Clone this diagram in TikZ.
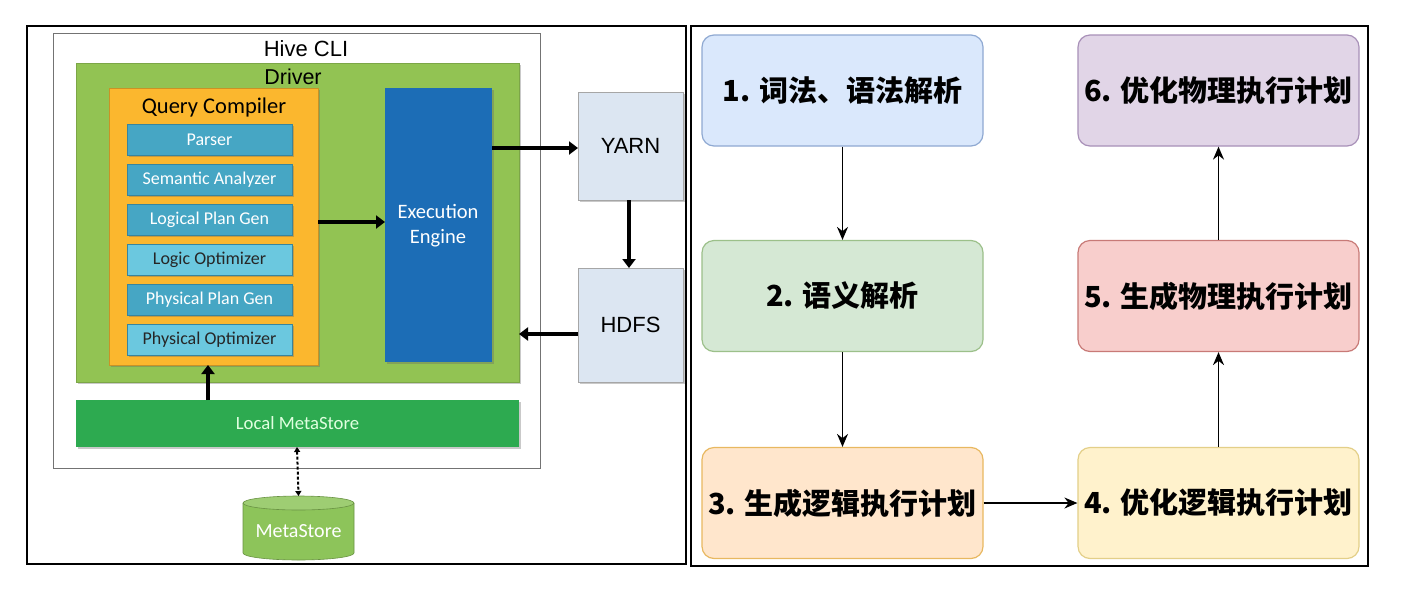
\documentclass[tikz,border=0pt]{standalone}
\usepackage{fontspec}
\setmainfont{Carlito}
\newfontfamily\hel{Liberation Sans}
\newfontfamily\cjk{Noto Sans CJK SC}
\usetikzlibrary{arrows.meta,shadows,positioning}
\definecolor{drvgreen}{HTML}{92C353}
\definecolor{qcorange}{HTML}{FBB72E}
\definecolor{stepdark}{HTML}{46A6C4}
\definecolor{steplight}{HTML}{6BC8DF}
\definecolor{eeblue}{HTML}{1C6DB6}
\definecolor{srvgrey}{HTML}{DCE6F2}
\definecolor{lmgreen}{HTML}{2DAA50}
\definecolor{cylgreen}{HTML}{8DC45A}
\definecolor{fa}{HTML}{DAE8FC}\definecolor{fab}{HTML}{8FA9D2}
\definecolor{fb}{HTML}{D5E8D4}\definecolor{fbb}{HTML}{9CC08A}
\definecolor{fc}{HTML}{FFE6CC}\definecolor{fcb}{HTML}{E8B860}
\definecolor{fd}{HTML}{FFF2CC}\definecolor{fdb}{HTML}{E3CF88}
\definecolor{fe}{HTML}{F8CECC}\definecolor{feb}{HTML}{C87A77}
\definecolor{ff}{HTML}{E1D5E7}\definecolor{ffb}{HTML}{A890B8}
\tikzset{
  shd/.style={drop shadow={shadow xshift=1.5pt,shadow yshift=-1.5pt,opacity=0.35,fill=black!60}},
  area/.style={anchor=north west,inner sep=0pt,outer sep=0pt},
  stepbox/.style={area,shd,minimum width=165pt,minimum height=31pt,draw=stepdark!80!black,line width=0.3pt,font=\fontsize{18}{20}\selectfont},
  thickarrow/.style={line width=4.5pt,-{Triangle[length=9pt,width=13pt]}},
  flowbox/.style={rounded corners=12pt,line width=1.2pt,minimum width=281pt,minimum height=111pt,inner sep=0pt,font=\cjk\bfseries\fontsize{29}{31}\selectfont},
  flowarrow/.style={line width=1.6pt,-{Stealth[length=13pt,width=11pt]}}
}
\begin{document}
\begin{tikzpicture}[x=1pt,y=-1pt]
\useasboundingbox (0,0) rectangle (1404,592);
\fill[white] (0,0) rectangle (1404,592);
% ---------- left panel ----------
\node[area,draw=black,line width=2.2pt,minimum width=659pt,minimum height=538pt] (lframe) at (27,26) {};
\node[area,draw=black!55,line width=0.8pt,fill=white,minimum width=487pt,minimum height=435pt] (cli) at (53,33) {};
\node[font=\hel\fontsize{22}{24}\selectfont] (clit) at (306,49) {Hive CLI};
\node[area,shd,fill=drvgreen,draw=drvgreen!85!black,line width=0.4pt,minimum width=443pt,minimum height=319pt] (drv) at (76,63) {};
\node[font=\hel\fontsize{21.5}{24}\selectfont] (drvt) at (293,77) {Driver};
\node[area,shd,fill=qcorange,draw=qcorange!80!black,line width=0.4pt,minimum width=209pt,minimum height=277pt] (qc) at (109,88) {};
\node[font=\fontsize{22.5}{24}\selectfont] (qct) at (214,107) {Query Compiler};
\node[stepbox,fill=stepdark,text=white] (s1) at (127,124) {Parser};
\node[stepbox,fill=stepdark,text=white] (s2) at (127,164) {Semantic Analyzer};
\node[stepbox,fill=stepdark,text=white] (s3) at (127,204) {Logical Plan Gen};
\node[stepbox,fill=steplight,text=black!85] (s4) at (127,244) {Logic Optimizer};
\node[stepbox,fill=stepdark,text=white] (s5) at (127,284) {Physical Plan Gen};
\node[stepbox,fill=steplight,text=black!85] (s6) at (127,324) {Physical Optimizer};
\node[area,shd,fill=eeblue,minimum width=107pt,minimum height=274pt] (ee) at (385,88) {};
\node[text=white,align=center,font=\fontsize{20.5}{25}\selectfont] (eet) at (438,226) {Execution\\Engine};
\node[area,shd,fill=srvgrey,draw=black!35,line width=0.6pt,minimum width=105pt,minimum height=108pt] (yarn) at (578,92) {};
\node[font=\hel\fontsize{22}{24}\selectfont] at (yarn.center) {YARN};
\node[area,shd,fill=srvgrey,draw=black!35,line width=0.6pt,minimum width=105pt,minimum height=114pt] (hdfs) at (578,268) {};
\node[font=\hel\fontsize{22}{24}\selectfont] at (hdfs.center) {HDFS};
\node[area,shd,fill=lmgreen,minimum width=443pt,minimum height=47pt] (lm) at (76,400) {};
\node[text=white!88!green,font=\fontsize{18.7}{21}\selectfont] at (lm.center) {Local MetaStore};
% cylinder
\fill[cylgreen] (243,503) -- (243,553) arc[start angle=180,end angle=360,x radius=55.5pt,y radius=7pt] -- (354,503) -- cycle;
\draw[cylgreen!75!black,line width=0.6pt] (243,503) -- (243,553) arc[start angle=180,end angle=360,x radius=55.5pt,y radius=7pt] -- (354,503);
\filldraw[fill=cylgreen!85!white,draw=cylgreen!75!black,line width=0.6pt] (298.5,503) ellipse[x radius=55.5pt,y radius=7pt];
\coordinate (mstop) at (298.5,496);
\node[text=white,font=\fontsize{20}{22}\selectfont] (ms) at (298.5,531) {MetaStore};
% arrows
\draw[thickarrow] (ee.east |- 0,148) -- (yarn.west |- 0,148);
\draw[thickarrow] (yarn.south -| 629,0) -- (hdfs.north -| 629,0);
\draw[thickarrow] (hdfs.west |- 0,334) -- (drv.east |- 0,334);
\draw[thickarrow] (qc.east |- 0,222) -- (ee.west |- 0,222);
\draw[thickarrow] (lm.north -| 208,0) -- (qc.south -| 208,0);
\draw[line width=2pt,dash pattern=on 3pt off 2pt,{Triangle[length=5pt,width=6pt]}-{Triangle[length=5pt,width=6pt]}] (lm.south -| 297,0) -- (mstop);
% ---------- right panel ----------
\node[area,draw=black,line width=2.2pt,minimum width=677pt,minimum height=540pt] (rframe) at (691,26) {};
\node[flowbox,fill=fa,draw=fab] (f1) at (842.5,90.5) {1. 词法、语法解析};
\node[flowbox,fill=fb,draw=fbb] (f2) at (842.5,296) {2. 语义解析};
\node[flowbox,fill=fc,draw=fcb] (f3) at (842.5,503) {3. 生成逻辑执行计划};
\node[flowbox,fill=fd,draw=fdb] (f4) at (1218.5,503) {4. 优化逻辑执行计划};
\node[flowbox,fill=fe,draw=feb] (f5) at (1218.5,296) {5. 生成物理执行计划};
\node[flowbox,fill=ff,draw=ffb] (f6) at (1218.5,90.5) {6. 优化物理执行计划};
\draw[flowarrow] (f1) -- (f2);
\draw[flowarrow] (f2) -- (f3);
\draw[flowarrow] (f3) -- (f4);
\draw[flowarrow] (f4) -- (f5);
\draw[flowarrow] (f5) -- (f6);
\end{tikzpicture}
\end{document}
